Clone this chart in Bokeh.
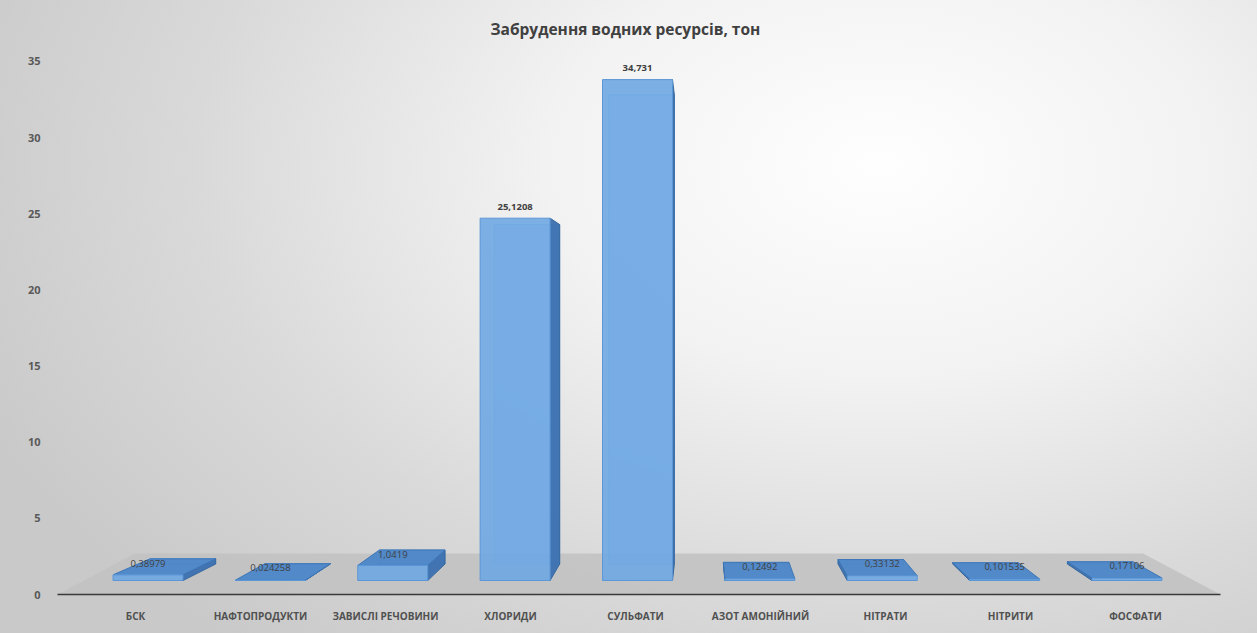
import numpy as np
from bokeh.plotting import figure
from bokeh.models import FixedTicker
from bokeh.core.properties import value
from bokeh.embed import file_html
from bokeh.resources import INLINE

# ---------------- data ----------------
categories = ["БСК", "НАФТОПРОДУКТИ", "ЗАВИСЛІ РЕЧОВИНИ", "ХЛОРИДИ", "СУЛЬФАТИ",
              "АЗОТ АМОНІЙНИЙ", "НІТРАТИ", "НІТРИТИ", "ФОСФАТИ"]
values = [0.38979, 0.024258, 1.0419, 25.1208, 34.731, 0.12492, 0.33132, 0.101535, 0.17106]
value_labels = ["0,38979", "0,024258", "1,0419", "25,1208", "34,731",
                "0,12492", "0,33132", "0,101535", "0,17106"]
y_ticks = [0, 5, 10, 15, 20, 25, 30, 35]
title_text = "Забрудення водних ресурсів, тон"

# ---------------- 3D-look projection (Excel style perspective) ----------------
VX, VY = 4.53, 18.06      # vanishing point (data units)
DEPTH = 0.937             # back plane scale of a column
FLOOR_DEPTH = 0.8505      # back edge scale of the floor
FRONT_BASE = 0.92
FRONT_SCALE = 0.947
HW = 0.28

def to_back(x, y, r=DEPTH):
    return VX + (np.asarray(x, float) - VX) * r, VY + (np.asarray(y, float) - VY) * r

idx = np.arange(len(categories))
vals = np.array(values, float)
xf = 0.1 + 0.979 * idx
yb = np.full_like(vals, FRONT_BASE)
yt = FRONT_BASE + FRONT_SCALE * vals

X0, X1 = -0.624, 8.68
p = figure(width=1257, height=633, output_backend="svg", toolbar_location=None,
           x_range=(X0, X1), y_range=(0, 36.05),
           min_border_left=57, min_border_right=37, min_border_bottom=39, min_border_top=45)
p.styles = {"background": "radial-gradient(ellipse 78% 100% at 70% 26%, #fefefe 0%, #f2f2f2 34%, #d9d9d9 70%, #c9c9c9 100%)"}
p.background_fill_alpha = 0
p.border_fill_alpha = 0
p.outline_line_color = None
p.xgrid.grid_line_color = None
p.ygrid.grid_line_color = None

p.title.text = title_text
p.title.align = "left"
p.title.offset = 433
p.title.text_font = "Open Sans"
p.title.text_font_style = "bold"
p.title.text_font_size = "15.5px"
p.title.text_color = "#404040"
p.title.standoff = 12

# floor
bx, by = to_back([X0, X1], [0, 0], FLOOR_DEPTH)
p.patch([X0, X1, bx[1], bx[0] - 0.15], [0, 0, by[1], by[0]], fill_color="#c2c2c2", fill_alpha=0.9, line_color=None)

# back faces
bl, bb = to_back(xf - HW, yb)
br, bt = to_back(xf + HW, yt)
p.quad(left=bl, right=br, bottom=bb, top=bt, fill_color="#6ea6e0", fill_alpha=0.35,
       line_color="#5a92d0", line_alpha=0.6)

# side faces
side_xs, side_ys = [], []
for x, b, t in zip(xf, yb, yt):
    ex = x + HW if x < VX else x - HW
    ebx, eby = to_back([ex, ex], [t, b])
    side_xs.append([ex, ex, ebx[0], ebx[1]])
    side_ys.append([b, t, eby[0], eby[1]])
p.patches(side_xs, side_ys, fill_color="#3b70b0", fill_alpha=0.95, line_color="#36689f")

# top faces (visible below eye level)
top_xs, top_ys = [], []
for x, t in zip(xf, yt):
    if t < VY:
        ebx, eby = to_back([x + HW, x - HW], [t, t])
        top_xs.append([x - HW, x + HW, ebx[0], ebx[1]])
        top_ys.append([t, t, eby[0], eby[1]])
p.patches(top_xs, top_ys, fill_color="#4c86c8", fill_alpha=0.95, line_color="#3f77b8")

# front faces
p.quad(left=xf - HW, right=xf + HW, bottom=yb, top=yt, fill_color="#6fa8e3", fill_alpha=0.9,
       line_color="#5b96d6", line_width=1)

# value labels
_, back_top = to_back(xf, yt)
low = yt < VY
p.text(x=xf[low], y=back_top[low] - 0.28, text=[t for t, l in zip(value_labels, low) if l],
       text_align="center", text_baseline="middle",
       text_font=value("Open Sans"), text_font_size="9.5px", text_color="#404040")
p.text(x=xf[~low], y=yt[~low] + 0.75, text=[t for t, l in zip(value_labels, low) if not l],
       text_align="center", text_baseline="middle", text_font_style="bold",
       text_font=value("Open Sans"), text_font_size="9.5px", text_color="#404040")

# axes
p.yaxis.ticker = FixedTicker(ticks=y_ticks)
p.yaxis.axis_line_color = None
p.yaxis.major_tick_line_color = None
p.yaxis.minor_tick_line_color = None
p.yaxis.major_label_text_font = "Open Sans"
p.yaxis.major_label_text_font_style = "bold"
p.yaxis.major_label_text_font_size = "11px"
p.yaxis.major_label_text_color = "#595959"
p.yaxis.major_label_standoff = 11

p.xaxis.ticker = FixedTicker(ticks=list(idx))
p.xaxis.major_label_overrides = {int(i): c for i, c in zip(idx, categories)}
p.xaxis.axis_line_color = "#3a3a3a"
p.xaxis.axis_line_width = 1.5
p.xaxis.major_tick_line_color = None
p.xaxis.minor_tick_line_color = None
p.xaxis.major_label_text_font = "Open Sans"
p.xaxis.major_label_text_font_style = "bold"
p.xaxis.major_label_text_font_size = "10px"
p.xaxis.major_label_text_color = "#505050"
p.xaxis.major_label_standoff = 8

open("out.html", "w").write(file_html(p, INLINE))
